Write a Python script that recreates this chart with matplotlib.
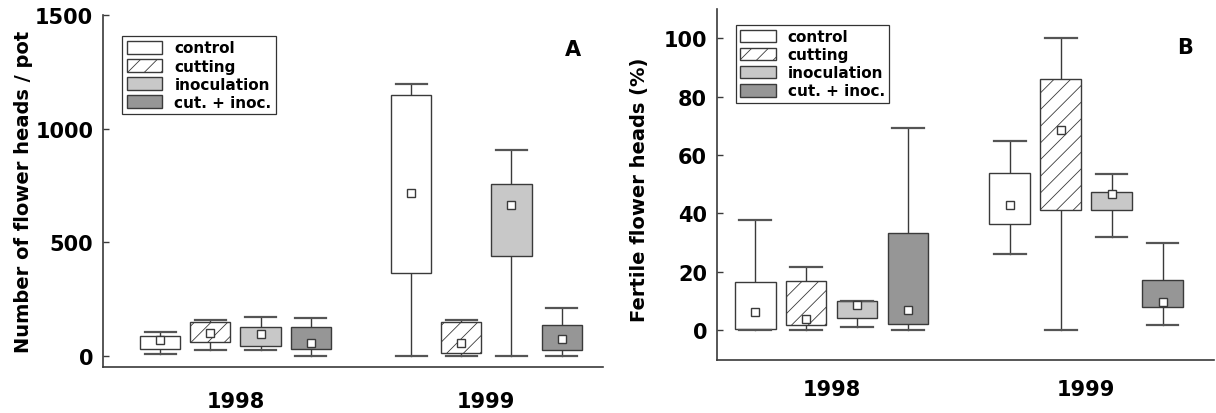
import numpy as np
import matplotlib
matplotlib.use('Agg')
import matplotlib.pyplot as plt
from matplotlib.patches import Patch

# treatments and box positions (two years, four treatments each)
treatments = ['control', 'cutting', 'inoculation', 'cut. + inoc.']
years = ['1998', '1999']
positions = [0, 1, 2, 3, 5, 6, 7, 8]

# panel A: number of flower heads per pot
a_whislo = [7, 25, 25, 0, 0, 0, 0, 0]
a_q1 = [29, 59, 41, 29, 365, 12, 440, 26]
a_q3 = [85, 147, 128, 125, 1150, 147, 757, 135]
a_whishi = [103, 157, 169, 165, 1196, 157, 904, 209]
a_mean = [70, 98, 94, 57, 716, 57, 665, 72]

# panel B: fertile flower heads (%)
b_whislo = [0, 0, 1.3, 0, 26.2, 0, 31.8, 2.0]
b_q1 = [0.6, 1.9, 4.2, 2.3, 36.3, 41.2, 41.3, 8.1]
b_q3 = [16.6, 16.9, 9.9, 33.3, 53.8, 86.0, 47.5, 17.1]
b_whishi = [37.7, 21.6, 9.9, 69.1, 64.8, 100, 53.4, 30.0]
b_mean = [6.3, 3.8, 8.8, 7.1, 43.0, 68.7, 46.5, 9.7]

fills = ['white', 'white', '#c8c8c8', '#969696']
hatches = ['', '//', '', '']
edge = '#3a3a3a'

plt.rcParams['font.family'] = 'DejaVu Sans'
plt.rcParams['font.weight'] = 'bold'
plt.rcParams['hatch.linewidth'] = 0.6


def make_stats(lo, q1, q3, hi, mean):
    stats = []
    for i in range(len(lo)):
        stats.append({'whislo': lo[i], 'q1': q1[i], 'med': q1[i], 'q3': q3[i],
                      'whishi': hi[i], 'mean': mean[i], 'fliers': []})
    return stats


def draw_panel(ax, stats, ylim, yticks, ylabel, letter, xlim, letter_xy, leg_xy, xpad):
    bp = ax.bxp(stats, positions=positions, widths=0.8, patch_artist=True,
                showmeans=True, showfliers=False, capwidths=0.62,
                boxprops=dict(edgecolor=edge, linewidth=1.0),
                whiskerprops=dict(color=edge, linewidth=1.0),
                capprops=dict(color='#555555', linewidth=1.6),
                medianprops=dict(linewidth=0),
                meanprops=dict(marker='s', markerfacecolor='white',
                               markeredgecolor=edge, markersize=6,
                               markeredgewidth=1.0))
    for i, box in enumerate(bp['boxes']):
        box.set_facecolor(fills[i % 4])
        box.set_hatch(hatches[i % 4])
    for w in bp['whiskers']:
        w.set_zorder(1)
    for m in bp['means']:
        m.set_zorder(4)

    ax.set_xlim(*xlim)
    ax.set_ylim(*ylim)
    ax.set_yticks(yticks)
    ax.set_xticks([1.5, 6.5])
    ax.set_xticklabels(years, fontsize=15, fontweight='bold')
    ax.tick_params(axis='x', length=0, pad=xpad)
    ax.tick_params(axis='y', direction='in', length=4, width=1, color=edge,
                   labelsize=15, pad=7)
    for lab in ax.get_yticklabels():
        lab.set_fontweight('bold')
    ax.spines['top'].set_visible(False)
    ax.spines['right'].set_visible(False)
    for s in ['left', 'bottom']:
        ax.spines[s].set_color(edge)
        ax.spines[s].set_linewidth(1.2)
    ax.set_ylabel(ylabel, fontsize=14, fontweight='bold')
    ax.text(letter_xy[0], letter_xy[1], letter, transform=ax.transAxes,
            fontsize=15, fontweight='bold', ha='center', va='center')

    handles = [Patch(facecolor=fills[i], hatch=hatches[i], edgecolor=edge,
                     linewidth=1.0) for i in range(4)]
    leg = ax.legend(handles, treatments, loc='upper left', bbox_to_anchor=leg_xy,
                    fontsize=11, frameon=True, fancybox=False, borderaxespad=0,
                    handlelength=2.3, handleheight=0.9, handletextpad=0.8,
                    labelspacing=0.2, borderpad=0.3)
    leg.get_frame().set_edgecolor('black')
    leg.get_frame().set_linewidth(0.9)
    for t in leg.get_texts():
        t.set_fontweight('bold')


fig = plt.figure(figsize=(12.16, 4.14), dpi=100)
ax1 = fig.add_axes([0.0847, 0.111, 0.411, 0.850])
ax2 = fig.add_axes([0.5896, 0.129, 0.4084, 0.847])

draw_panel(ax1, make_stats(a_whislo, a_q1, a_q3, a_whishi, a_mean),
           (-50, 1500), [0, 500, 1000, 1500], 'Number of flower heads / pot',
           'A', (-1.14, 8.82), (0.941, 0.903), (0.039, 0.941), 17)
draw_panel(ax2, make_stats(b_whislo, b_q1, b_q3, b_whishi, b_mean),
           (-10, 110), [0, 20, 40, 60, 80, 100], 'Fertile flower heads (%)',
           'B', (-0.75, 9.0), (0.943, 0.892), (0.038, 0.955), 14)

ax1.yaxis.set_label_coords(-0.14, 0.5)
ax2.yaxis.set_label_coords(-0.137, 0.487)

fig.savefig('out.png', dpi=100)
